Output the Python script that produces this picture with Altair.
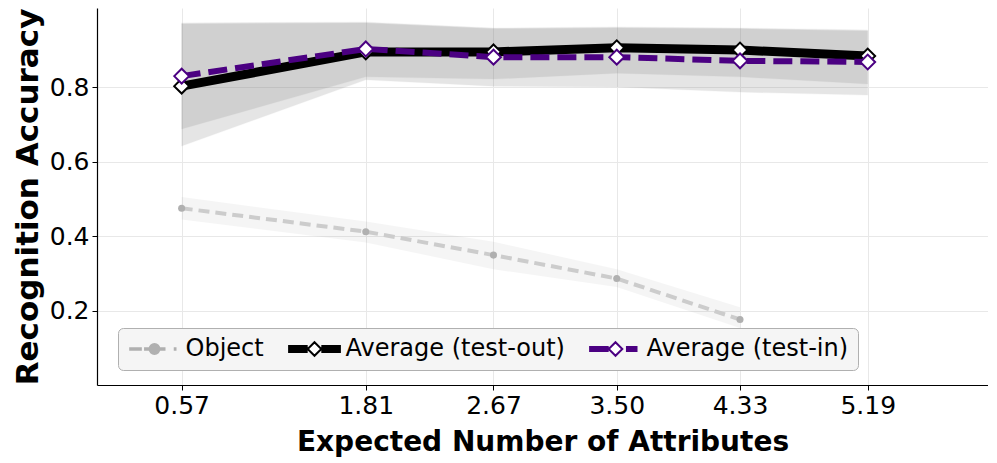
import altair as alt
import pandas as pd

# ---------------- data ----------------
x_vals = [0.57, 1.81, 2.67, 3.50, 4.33, 5.19]
series_names = ["Object", "Average (test-out)", "Average (test-in)"]

obj_mean = [0.475, 0.412, 0.349, 0.286, 0.176]
obj_lo = [0.445, 0.383, 0.311, 0.263, 0.153]
obj_hi = [0.505, 0.439, 0.385, 0.311, 0.209]

out_mean = [0.803, 0.895, 0.895, 0.906, 0.900, 0.884]
out_lo = [0.642, 0.820, 0.803, 0.801, 0.787, 0.779]
out_hi = [0.973, 0.975, 0.959, 0.962, 0.959, 0.954]

in_mean = [0.830, 0.903, 0.881, 0.881, 0.871, 0.868]
in_lo = [0.688, 0.828, 0.822, 0.838, 0.828, 0.809]
in_hi = [0.970, 0.973, 0.957, 0.959, 0.957, 0.951]

y_ticks = [0.2, 0.4, 0.6, 0.8]

rows = []
for name, m, lo, hi in [
    (series_names[0], obj_mean, obj_lo, obj_hi),
    (series_names[1], out_mean, out_lo, out_hi),
    (series_names[2], in_mean, in_lo, in_hi),
]:
    for i in range(len(m)):
        rows.append({"series": name, "x": x_vals[i], "mean": m[i], "lo": lo[i], "hi": hi[i]})
df = pd.DataFrame(rows)

# ---------------- styling ----------------
FONT = "DejaVu Sans"
C_OBJ_LINE = "#cccccc"
C_OBJ_PT = "#b0b0b0"
C_OUT = "#000000"
C_IN = "#4b0082"

x_axis = alt.Axis(values=x_vals, format=".2f", title="Expected Number of Attributes",
                  titleFontSize=28, titlePadding=10)
y_axis = alt.Axis(values=y_ticks, format=".1f", title="Recognition Accuracy",
                  titleFontSize=31, titlePadding=5)
xs = alt.Scale(domain=[0, 6], nice=False, zero=False)
ys = alt.Scale(domain=[0, 1.013], nice=False, zero=False)


def X():
    return alt.X("x:Q", scale=xs, axis=x_axis)


def Y(field):
    return alt.Y(field + ":Q", scale=ys, axis=y_axis)


base = alt.Chart(df)


def sel(name):
    return base.transform_filter(alt.datum.series == name)


layers = []
# bands
layers.append(sel(series_names[0]).mark_area(color="gray", opacity=0.08)
              .encode(x=X(), y=Y("lo"), y2="hi:Q"))
layers.append(sel(series_names[1]).mark_area(color="gray", opacity=0.2, stroke="gray",
                                             strokeWidth=1, strokeOpacity=0.25)
              .encode(x=X(), y=Y("lo"), y2="hi:Q"))
layers.append(sel(series_names[2]).mark_area(color="gray", opacity=0.2, stroke="gray",
                                             strokeWidth=1, strokeOpacity=0.25)
              .encode(x=X(), y=Y("lo"), y2="hi:Q"))
# object line
layers.append(sel(series_names[0]).mark_line(color=C_OBJ_LINE, strokeWidth=4, strokeDash=[11, 6])
              .encode(x=X(), y=Y("mean")))
layers.append(sel(series_names[0]).mark_circle(color=C_OBJ_PT, size=50, opacity=1)
              .encode(x=X(), y=Y("mean")))
# test-out
layers.append(sel(series_names[1]).mark_line(color=C_OUT, strokeWidth=9)
              .encode(x=X(), y=Y("mean")))
layers.append(sel(series_names[1]).mark_point(shape="diamond", filled=True, fill="white",
                                              stroke=C_OUT, strokeWidth=2, size=220, opacity=1)
              .encode(x=X(), y=Y("mean")))
# test-in
layers.append(sel(series_names[2]).mark_line(color=C_IN, strokeWidth=6, strokeDash=[19, 8])
              .encode(x=X(), y=Y("mean")))
layers.append(sel(series_names[2]).mark_point(shape="diamond", filled=True, fill="white",
                                              stroke=C_IN, strokeWidth=2, size=220, opacity=1)
              .encode(x=X(), y=Y("mean")))


# ---------------- legend (custom symbols) ----------------
def hlines(x0, x1, ys_):
    return " ".join(f"M{x0},{yy:.2f} L{x1},{yy:.2f}" for yy in ys_)


def diamond(r):
    return f"M0,{-r} L{r},0 L0,{r} L{-r},0 Z"


def circle(r):
    return f"M{r},0 A{r},{r} 0 1,1 {-r},0 A{r},{r} 0 1,1 {r},0 Z"


thin = [-0.06, 0.06]
thick = [-0.27, -0.18, -0.09, 0, 0.09, 0.18, 0.27]
mid = [-0.18, -0.09, 0, 0.09, 0.18]

p_obj = " ".join([hlines(-2.3, -1.15, thin), hlines(-0.95, -0.45, thin), circle(0.45),
                  hlines(0.45, 1.0, thin), hlines(1.75, 2.0, thin)])
p_out = " ".join([hlines(-2.4, -0.62, thick), hlines(0.62, 2.4, thick), diamond(0.62)])
p_in = " ".join([hlines(-2.4, -0.62, mid), diamond(0.62), hlines(0.95, 2.0, mid)])

leg = alt.Legend(title=None, orient="none", legendX=21, legendY=320, direction="horizontal",
                 symbolSize=484, symbolStrokeWidth=2, symbolOffset=15.5, labelOffset=19,
                 columnPadding=20, padding=9, fillColor="#f5f5f5", strokeColor="#b0b0b0",
                 cornerRadius=5, labelFontSize=24, labelFont=FONT, labelColor="black",
                 labelLimit=500)

layers.append(base.transform_filter("false").mark_point(opacity=1, filled=False)
              .encode(x=X(), y=Y("mean"),
                      stroke=alt.Stroke("series:N", scale=alt.Scale(domain=series_names,
                                        range=[C_OBJ_PT, C_OUT, C_IN]), legend=leg),
                      fill=alt.Fill("series:N", scale=alt.Scale(domain=series_names,
                                    range=[C_OBJ_PT, "white", "white"]), legend=leg),
                      shape=alt.Shape("series:N", scale=alt.Scale(domain=series_names,
                                      range=[p_obj, p_out, p_in]), legend=leg)))

chart = (alt.layer(*layers)
         .properties(width=891, height=377, autosize="none",
                     padding={"left": 89, "top": 0, "right": 0, "bottom": 73})
         .configure_view(stroke=None)
         .configure_axis(labelFont=FONT, titleFont=FONT, labelFontSize=25, labelColor="black",
                         titleColor="black", titleFontWeight="bold", gridColor="#e8e8e8",
                         gridWidth=1, domainColor="black", domainWidth=1.2, tickColor="black",
                         tickSize=5, labelPadding=3))

chart.save("out.html", embed_options={"renderer": "svg", "actions": False})
